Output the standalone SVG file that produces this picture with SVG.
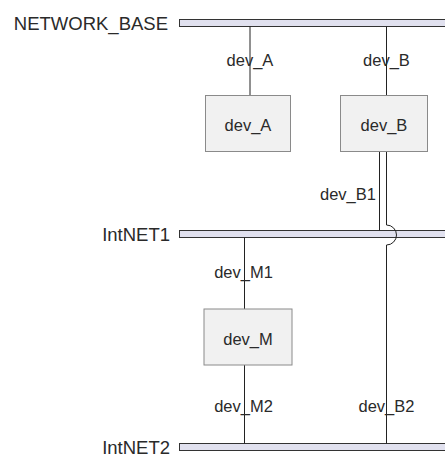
<svg xmlns="http://www.w3.org/2000/svg" width="445" height="457" viewBox="0 0 445 457">
<style>
text{font-family:"Liberation Sans",Arial,sans-serif;fill:#2a2a2a}
.net{font-size:18.5px;text-anchor:end}
.lbl{font-size:16.5px;text-anchor:middle}
.bar{fill:#e1e1ef;stroke:#333;stroke-width:1}
.box{fill:#f1f1f1;stroke:#8a8a8a;stroke-width:1}
.ln{fill:none;stroke:#222;stroke-width:1}
</style>
<rect width="445" height="457" fill="#fff"/>
<g id="NETWORK_BASE">
<rect class="bar" x="179.5" y="19.5" width="270" height="7"/>
<text class="net" x="168" y="29.5">NETWORK_BASE</text>
</g>
<g id="IntNET1">
<rect class="bar" x="179.5" y="230.5" width="270" height="7"/>
<text class="net" x="170" y="241">IntNET1</text>
</g>
<g id="IntNET2">
<rect class="bar" x="179.5" y="443.5" width="270" height="7"/>
<text class="net" x="170" y="454">IntNET2</text>
</g>
<g id="connectors">
<path class="ln" d="M250,26.5V95.5"/>
<path class="ln" d="M386.5,26.5V95.5"/>
<path class="ln" d="M379.5,151.5V230.5"/>
<path class="ln" d="M386.5,151.5V225A10,10 0 0 1 386.5,245V443.5"/>
<path class="ln" d="M244.5,237.5V309"/>
<path class="ln" d="M244.5,365V443.5"/>
</g>
<g id="edge-labels">
<text class="lbl" x="250" y="66">dev_A</text>
<text class="lbl" x="386.5" y="66">dev_B</text>
<text class="lbl" x="348" y="199.5">dev_B1</text>
<text class="lbl" x="243.5" y="277.5">dev_M1</text>
<text class="lbl" x="243.5" y="412">dev_M2</text>
<text class="lbl" x="386.5" y="412">dev_B2</text>
</g>
<g id="dev_A">
<rect class="box" x="205.5" y="95.5" width="85" height="56"/>
<text class="lbl" x="248" y="131">dev_A</text>
</g>
<g id="dev_B">
<rect class="box" x="340.5" y="95.5" width="87" height="56"/>
<text class="lbl" x="384" y="131">dev_B</text>
</g>
<g id="dev_M">
<rect class="box" x="204" y="309" width="88" height="56"/>
<text class="lbl" x="248" y="345">dev_M</text>
</g>
</svg>
